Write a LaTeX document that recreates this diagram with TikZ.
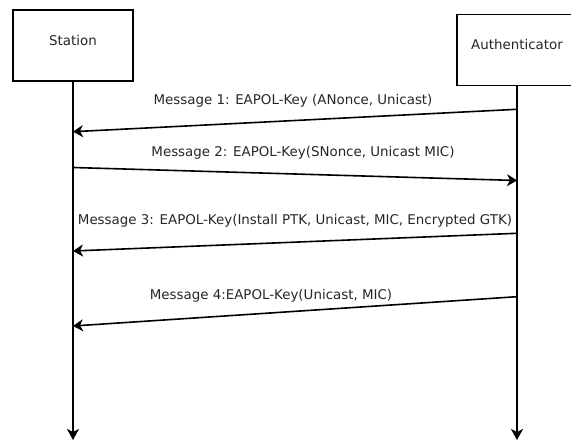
\documentclass[tikz,border=0pt]{standalone}
\usepackage{fontspec}
\setmainfont{DejaVu Sans}
\usetikzlibrary{arrows.meta}
\begin{document}
\begin{tikzpicture}[x=1bp,y=-1bp,
  every node/.style={font=\fontsize{13.4bp}{16bp}\selectfont, text=black!85},
  actor/.style={draw=black, line width=1.8bp, minimum width=120bp, minimum height=71bp,
    inner sep=0pt, text height=10bp, text depth=10bp},
  life/.style={draw=black, line width=1.8bp, -{Stealth[length=11bp,width=12bp,inset=3bp]}},
  msg/.style={draw=black, line width=1.6bp, -{Stealth[length=10bp,width=12bp,inset=3bp]}},
  lbl/.style={inner sep=0pt, anchor=center}]
\useasboundingbox (0,0) rectangle (571,441);
\clip (0,0) rectangle (571,441);
\node[actor] (st) at (73,45.5) {Station};
\node[actor] (au) at (517,50) {Authenticator};
\coordinate (stend) at (73,440);
\coordinate (auend) at (517,440);
\draw[life] (st.south) -- (stend);
\draw[life] (au.south) -- (auend);
% message endpoints
\coordinate (a1) at (517,109.3); \coordinate (s1) at (73,131.7);
\coordinate (s2) at (73,167.5);  \coordinate (a2) at (517,180.5);
\coordinate (a3) at (517,233.3); \coordinate (s3) at (73,251);
\coordinate (a4) at (517,296.7); \coordinate (s4) at (73,326);
\draw[msg] (a1) -- (s1);
\draw[msg] (s2) -- (a2);
\draw[msg] (a3) -- (s3);
\draw[msg] (a4) -- (s4);
\node[lbl] (l1) at (293,100.7) {Message 1: EAPOL-Key (ANonce, Unicast)};
\node[lbl] (l2) at (303,153.3) {Message 2: EAPOL-Key(SNonce, Unicast MIC)};
\node[lbl] (l3) at (295,221) {Message 3: EAPOL-Key(Install PTK, Unicast, MIC, Encrypted GTK)};
\node[lbl] (l4) at (271,295.7) {Message 4:EAPOL-Key(Unicast, MIC)};
\end{tikzpicture}
\end{document}
